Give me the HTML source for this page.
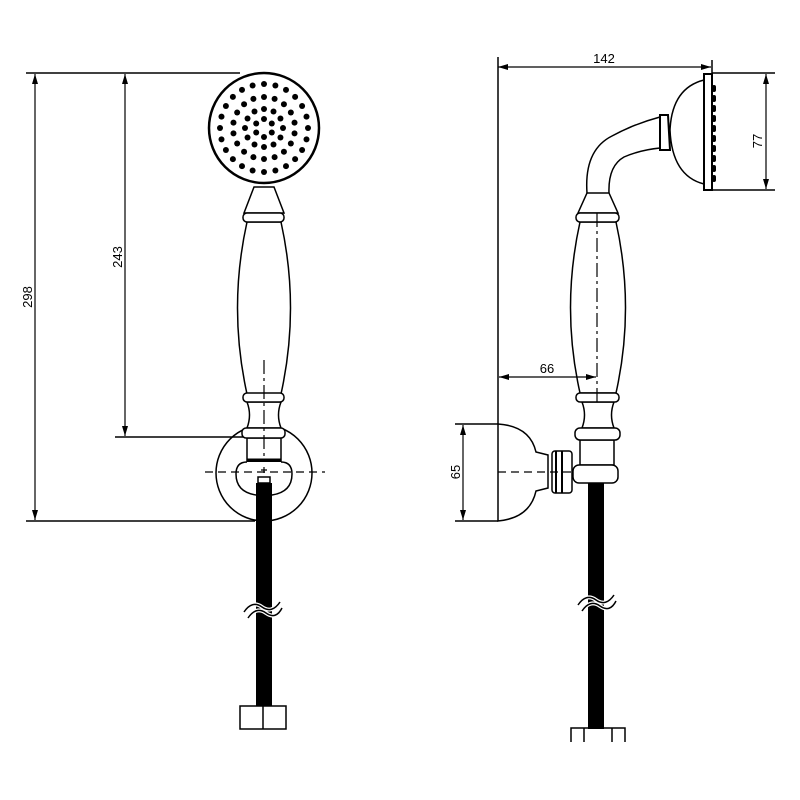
<!DOCTYPE html>
<html><head><meta charset="utf-8"><style>
html,body{margin:0;padding:0;background:#fff;}
svg{display:block;}
text{font-family:"Liberation Sans",sans-serif;font-size:13px;fill:#000;}
</style></head><body>
<svg id="s" width="800" height="800" viewBox="0 0 800 800" xmlns="http://www.w3.org/2000/svg">
<defs>
<marker id="a" viewBox="0 0 10 6" refX="10" refY="3" markerWidth="10" markerHeight="6" orient="auto-start-reverse" markerUnits="userSpaceOnUse"><path d="M0,0 L10,3 L0,6 z" fill="#000"/></marker>
</defs>
<g fill="none" stroke="#000" stroke-width="1.5">
<!-- LEFT dimensions -->
<line x1="26" y1="73" x2="240" y2="73"/>
<line x1="26" y1="521" x2="255" y2="521"/>
<line x1="115" y1="437" x2="250" y2="437"/>
<line x1="35" y1="74" x2="35" y2="520" marker-start="url(#a)" marker-end="url(#a)" stroke-width="1.2"/>
<line x1="125" y1="74" x2="125" y2="436" marker-start="url(#a)" marker-end="url(#a)" stroke-width="1.2"/>
<!-- bracket circle -->
<circle cx="264" cy="473" r="48"/>
<!-- head -->
<circle cx="264" cy="128" r="55" stroke-width="2.5"/>
<g id="dots" fill="#000" stroke="none"></g>
<!-- handle -->
<g fill="#fff">
<path d="M254,187 L274,187 L284,213 L244,213 Z"/>
<path d="M247,222 Q228,308 247,394 L281,394 Q300,308 281,222 Z"/>
<rect x="243" y="213" width="41" height="9" rx="4"/>
<path d="M247,402 Q252,415 247,428 L281,428 Q276,415 281,402 Z"/>
<rect x="243" y="393" width="41" height="9" rx="4"/>
<rect x="247" y="438" width="34" height="24"/>
<rect x="242" y="428" width="43" height="10" rx="4"/>
<path d="M247,462 Q236,462 236,474 Q236,492 256,495 L272,495 Q292,492 292,474 Q292,462 281,462"/>
</g>
<line x1="247" y1="460" x2="281" y2="460" stroke-width="3"/>
<rect x="258" y="477" width="12" height="6"/>
<line x1="264" y1="360" x2="264" y2="460" stroke-dasharray="14,4,3,4" stroke-width="1.2"/>
<line x1="205" y1="472" x2="325" y2="472" stroke-dasharray="8,5" stroke-width="1.2"/>
<path d="M261,470 h6 M264,467 v6" stroke-width="1.2"/>
<!-- hose -->
<rect x="256" y="483" width="16" height="223" fill="#000" stroke="none"/>
<path d="M244,612 Q252,600 262,607 Q272,614 280,602 M248,618 Q256,606 266,613 Q276,620 282,608" stroke="#fff" stroke-width="4"/>
<path d="M244,612 Q252,600 262,607 Q272,614 280,602 M248,618 Q256,606 266,613 Q276,620 282,608" stroke-width="1.5"/>
<rect x="240" y="706" width="46" height="23"/><line x1="263" y1="706" x2="263" y2="729"/>

<!-- RIGHT view -->
<line x1="498" y1="57" x2="498" y2="424"/>
<line x1="712" y1="60" x2="712" y2="73"/>
<line x1="498" y1="67" x2="711" y2="67" marker-start="url(#a)" marker-end="url(#a)" stroke-width="1.2"/>
<line x1="712" y1="73" x2="775" y2="73"/>
<line x1="712" y1="190" x2="775" y2="190"/>
<line x1="766" y1="74" x2="766" y2="189" marker-start="url(#a)" marker-end="url(#a)" stroke-width="1.2"/>
<!-- head side -->
<rect x="704" y="74" width="8" height="116" stroke-width="2"/>
<path d="M704,80 Q672,88 670,130 Q672,176 704,184"/>
<path d="M660,115 L668,115 L670,150 L660,150 Z" stroke-width="2"/>
<g fill="#000" stroke="none" id="sd"></g>
<!-- arm -->
<path d="M587,193 Q584,150 612,136 Q634,124 660,117 M609,193 Q608,166 624,157 Q640,150 660,148"/>
<!-- handle -->
<g fill="#fff">
<path d="M587,193 L609,193 L618,213 L578,213 Z"/>
<path d="M580,222 Q561,308 580,393 L616,393 Q635,308 616,222 Z"/>
<rect x="576" y="213" width="43" height="9" rx="4"/>
<path d="M582,402 Q587,415 582,428 L614,428 Q609,415 614,402 Z"/>
<rect x="576" y="393" width="43" height="9" rx="4"/>
<rect x="580" y="440" width="34" height="25"/>
<rect x="575" y="428" width="45" height="12" rx="5"/>
<rect x="573" y="465" width="45" height="18" rx="6"/>
</g>
<line x1="597" y1="213" x2="597" y2="403" stroke-dasharray="14,4,3,4" stroke-width="1.2"/>
<line x1="499" y1="377" x2="596" y2="377" marker-start="url(#a)" marker-end="url(#a)" stroke-width="1.2"/>
<!-- wall bracket -->
<path d="M498,424 Q530,426 536,452 L548,455 L548,488 L536,491 Q530,518 498,521 Z"/>
<rect x="552" y="451" width="20" height="42" rx="3"/>
<line x1="556" y1="451" x2="556" y2="493" stroke-width="2"/><line x1="562" y1="451" x2="562" y2="493" stroke-width="2"/>
<line x1="498" y1="472" x2="572" y2="472" stroke-dasharray="8,5" stroke-width="1.2"/>
<line x1="455" y1="424" x2="498" y2="424"/><line x1="455" y1="521" x2="498" y2="521"/>
<line x1="463" y1="425" x2="463" y2="520" marker-start="url(#a)" marker-end="url(#a)" stroke-width="1.2"/>
<!-- hose -->
<rect x="588" y="483" width="16" height="246" fill="#000" stroke="none"/>
<path d="M578,605 Q586,593 596,600 Q606,607 614,595 M582,611 Q590,599 600,606 Q610,613 616,601" stroke="#fff" stroke-width="4"/>
<path d="M578,605 Q586,593 596,600 Q606,607 614,595 M582,611 Q590,599 600,606 Q610,613 616,601" stroke-width="1.5"/>
<path d="M571,742 L571,728 L625,728 L625,742 M584,728 L584,742 M612,728 L612,742"/>
</g>
<text x="0" y="0" transform="translate(32,297) rotate(-90)" text-anchor="middle">298</text>
<text x="0" y="0" transform="translate(122,257) rotate(-90)" text-anchor="middle">243</text>
<text x="604" y="63" text-anchor="middle">142</text>
<text x="547" y="373" text-anchor="middle">66</text>
<text x="0" y="0" transform="translate(460,472) rotate(-90)" text-anchor="middle">65</text>
<text x="0" y="0" transform="translate(762,141) rotate(-90)" text-anchor="middle">77</text>
</svg>
<script>
var ns="http://www.w3.org/2000/svg",g=document.getElementById("dots");
[[44,24,0],[31,18,10],[19,12,0],[9,6,30]].forEach(function(r){for(var i=0;i<r[1];i++){var a=(i*360/r[1]+r[2])*Math.PI/180,c=document.createElementNS(ns,"circle");c.setAttribute("cx",264+r[0]*Math.cos(a));c.setAttribute("cy",128+r[0]*Math.sin(a));c.setAttribute("r",3);g.appendChild(c);}});
var s=document.getElementById("sd");
for(var i=0;i<10;i++){var e=document.createElementNS(ns,"rect");e.setAttribute("x",712);e.setAttribute("y",85+i*10);e.setAttribute("width",4);e.setAttribute("height",7);e.setAttribute("rx",2);s.appendChild(e);}
</script>
</body></html>
